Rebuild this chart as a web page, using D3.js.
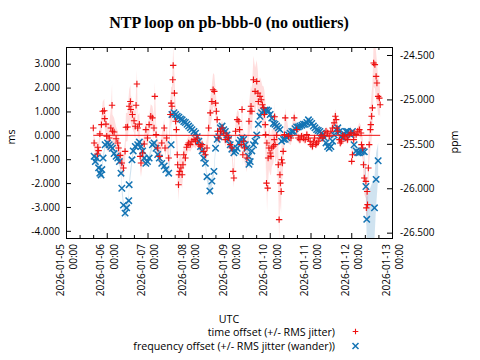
<!DOCTYPE html>
<html><head><meta charset="utf-8">
<script src="https://cdn.jsdelivr.net/npm/d3@7"></script>
<style>body{margin:0;background:#fff}svg{display:block}</style>
</head><body>
<svg id="c" width="480" height="360"></svg>
<script>
// ---------- data ----------
const titleText = "NTP loop on pb-bbb-0 (no outliers)";
const startDate = "2026-01-05T00:00:00Z";
const endDate = "2026-01-13T00:00:00Z";
const msTicks = [-4, -3, -2, -1, 0, 1, 2, 3];
const ppmTicks = [-26.5, -26, -25.5, -25, -24.5];
const seriesNames = ["time offset (+/- RMS jitter)", "frequency offset (+/- RMS jitter (wander))"];

// time offset: days since start, value (ms), RMS jitter (ms)
const offsetDay = [
 0.67,0.69,0.77,0.78,0.80,0.83,0.87,0.90,0.94,0.95,
 0.98,1.00,1.06,1.10,1.13,1.14,1.18,1.23,1.27,1.29,
 1.33,1.37,1.41,1.45,1.47,1.51,1.55,1.58,1.59,1.63,
 1.67,1.70,1.72,1.74,1.76,1.80,1.82,1.84,1.88,1.92,
 1.96,2.00,2.04,2.08,2.12,2.16,2.18,2.21,2.25,2.30,
 2.35,2.41,2.43,2.47,2.52,2.56,2.58,2.60,2.62,2.63,
 2.66,2.69,2.71,2.73,2.74,2.76,2.77,2.79,2.82,2.85,
 2.87,2.89,2.93,2.96,2.99,3.01,3.05,3.09,3.14,3.18,
 3.22,3.26,3.30,3.34,3.38,3.42,3.46,3.50,3.54,3.58,
 3.61,3.64,3.67,3.69,3.71,3.72,3.75,3.79,3.83,3.87,
 3.91,3.95,3.99,4.03,4.07,4.10,4.12,4.16,4.20,4.24,
 4.26,4.30,4.32,4.34,4.36,4.38,4.44,4.49,4.52,4.54,
 4.56,4.60,4.64,4.68,4.71,4.72,4.76,4.79,4.82,4.85,
 4.87,4.89,4.90,4.92,4.93,4.95,4.96,4.98,5.01,5.03,
 5.05,5.09,5.11,5.12,5.13,5.17,5.21,5.23,5.25,5.26,
 5.28,5.29,5.31,5.33,5.36,5.38,5.46,5.52,5.60,5.66,
 5.70,5.74,5.78,5.83,5.87,5.91,5.95,5.99,6.01,6.05,
 6.07,6.10,6.13,6.15,6.19,6.23,6.26,6.30,6.34,6.38,
 6.42,6.46,6.50,6.54,6.58,6.61,6.63,6.65,6.67,6.71,
 6.73,6.76,6.79,6.83,6.87,6.91,6.95,6.99,7.01,7.03,
 7.06,7.07,7.12,7.16,7.20,7.24,7.25,7.28,7.30,7.32,
 7.36,7.37,7.39,7.40,7.42,7.44,7.47,7.48,7.50,7.52,
 7.55,7.58,7.61,7.63,7.66,7.69,7.71
];
const offsetMs = [
 0.31,-0.32,-0.78,-0.50,-0.64,0.06,0.45,1.01,1.03,0.70,
 0.47,-0.04,-0.11,0.31,1.26,0.17,0.14,-0.14,-0.32,-0.53,
 -0.84,-1.16,-1.37,-0.67,0.34,0.35,1.22,1.42,1.08,0.87,
 0.61,0.38,1.26,2.15,0.31,0.47,-0.88,-1.16,-0.74,-0.36,
 0.24,-0.11,0.45,0.80,0.73,0.31,1.63,0.03,-0.53,-0.88,
 -0.32,0.31,-0.53,-0.11,-0.95,0.87,1.35,1.22,2.33,2.93,
 1.77,0.59,0.24,-0.81,-1.23,-2.07,-1.65,-1.51,-1.37,-1.65,
 -1.23,-0.81,-0.95,-0.50,-0.39,-0.32,-0.39,-0.25,-0.18,-0.25,
 -0.11,-0.39,-0.46,-0.39,-0.67,-0.81,-0.53,0.31,0.94,1.42,
 1.91,1.84,1.35,1.01,0.66,0.17,-0.11,0.17,0.31,0.10,
 -0.18,0.00,-0.11,-0.39,-0.53,-1.51,-1.79,0.17,0.66,0.59,
 0.24,-0.39,1.08,-0.81,-0.25,-0.53,-0.95,0.59,1.01,1.22,
 1.01,2.33,1.84,2.26,1.77,1.42,1.63,1.49,1.28,1.15,
 0.87,0.45,0.03,-2.00,-0.32,-2.21,-0.95,-0.53,-0.74,-0.88,
 -0.53,-0.46,-0.18,0.78,-0.39,0.00,-1.23,-3.53,-1.65,-2.00,
 -2.35,-1.02,-1.16,-0.67,0.03,0.73,-0.04,-0.11,0.73,0.24,
 -0.11,-0.18,-0.04,-0.11,-0.18,0.03,-0.11,-0.25,-0.39,-0.46,
 -0.28,-0.11,-0.39,-0.32,-0.25,-0.11,0.00,-0.11,0.00,0.17,
 0.10,-0.04,0.17,0.31,0.52,0.80,0.66,0.31,0.17,-0.18,
 -0.32,-0.25,0.00,-0.04,-0.11,-0.18,0.03,0.10,-1.09,-0.81,
 -0.18,0.10,0.03,0.17,0.24,0.10,-0.39,-0.53,-1.23,-1.79,
 -1.93,-3.04,-2.35,-2.90,-1.37,-0.39,0.24,0.45,0.80,1.15,
 3.03,2.96,2.47,2.19,1.63,1.56,1.28
];
const offsetJitter = [
 0.3,0.3,0.3,0.3,0.3,0.3,0.4,0.4,0.5,0.4,
 0.5,0.6,0.6,0.8,0.9,0.7,0.6,0.5,0.5,0.5,
 0.4,0.4,0.5,0.5,0.6,0.6,0.7,0.7,0.6,0.6,
 0.5,0.6,0.7,0.6,0.5,0.5,0.6,0.6,0.5,0.4,
 0.4,0.4,0.4,0.5,0.5,0.5,0.6,0.5,0.4,0.4,
 0.4,0.4,0.4,0.5,0.5,0.6,0.7,0.8,0.8,0.8,
 0.8,0.7,0.7,0.7,0.8,0.7,0.7,0.6,0.6,0.6,
 0.5,0.4,0.4,0.3,0.3,0.3,0.3,0.3,0.3,0.3,
 0.3,0.3,0.3,0.3,0.3,0.4,0.4,0.5,0.6,0.7,
 0.7,0.7,0.6,0.5,0.5,0.4,0.3,0.3,0.3,0.3,
 0.3,0.3,0.3,0.4,0.4,0.4,0.4,0.4,0.4,0.4,
 0.4,0.4,0.5,0.5,0.5,0.6,0.6,0.7,0.8,0.9,
 0.9,1.0,1.0,0.9,0.9,0.8,0.8,0.8,0.8,0.9,
 1.0,1.0,1.0,1.1,1.0,1.1,1.0,0.9,0.9,0.8,
 0.8,0.7,0.7,0.7,0.8,0.9,1.0,1.1,1.1,1.0,
 0.9,0.8,0.7,0.6,0.5,0.4,0.3,0.3,0.3,0.3,
 0.2,0.2,0.2,0.2,0.2,0.2,0.2,0.2,0.2,0.2,
 0.2,0.2,0.2,0.2,0.2,0.2,0.2,0.2,0.2,0.2,
 0.2,0.2,0.2,0.3,0.3,0.3,0.3,0.3,0.2,0.2,
 0.2,0.2,0.2,0.2,0.2,0.2,0.2,0.3,0.3,0.3,
 0.3,0.2,0.2,0.2,0.3,0.3,0.4,0.5,0.6,0.7,
 0.7,0.8,0.8,0.8,0.8,0.8,0.8,0.9,1.0,1.0,
 1.0,1.0,1.0,0.9,0.8,0.7,0.5
];

// frequency offset: days since start, value (ppm), RMS wander (ppm)
const freqDay = [
 0.69,0.72,0.75,0.80,0.83,0.86,0.88,0.91,0.96,1.02,
 1.06,1.10,1.14,1.18,1.23,1.27,1.31,1.35,1.37,1.41,
 1.45,1.49,1.54,1.55,1.62,1.65,1.70,1.76,1.80,1.84,
 1.88,1.92,1.96,2.00,2.04,2.12,2.16,2.21,2.25,2.29,
 2.35,2.41,2.45,2.52,2.58,2.60,2.65,2.69,2.73,2.77,
 2.81,2.85,2.89,2.93,2.97,3.01,3.05,3.09,3.14,3.18,
 3.22,3.26,3.30,3.34,3.38,3.42,3.46,3.53,3.58,3.63,
 3.67,3.71,3.75,3.79,3.83,3.87,3.91,3.95,3.99,4.03,
 4.07,4.12,4.16,4.20,4.24,4.28,4.32,4.36,4.40,4.44,
 4.48,4.49,4.52,4.56,4.60,4.64,4.68,4.72,4.76,4.80,
 4.85,4.89,4.93,4.97,5.01,5.05,5.09,5.13,5.17,5.21,
 5.25,5.29,5.34,5.38,5.42,5.46,5.50,5.54,5.58,5.62,
 5.66,5.70,5.74,5.79,5.83,5.87,5.91,5.95,5.99,6.03,
 6.07,6.11,6.15,6.19,6.23,6.27,6.30,6.34,6.38,6.42,
 6.46,6.50,6.54,6.58,6.63,6.67,6.71,6.75,6.79,6.83,
 6.87,6.91,6.95,6.99,7.03,7.07,7.12,7.16,7.20,7.24,
 7.28,7.32,7.36,7.38,7.57,7.61,7.66
];
const freqPpm = [
 -25.64,-25.70,-25.66,-25.77,-25.83,-25.85,-25.79,-25.66,-25.51,-25.49,
 -25.51,-25.53,-25.55,-25.61,-25.64,-25.66,-25.70,-25.83,-26.00,-26.19,
 -26.28,-26.22,-26.14,-25.96,-25.68,-25.58,-25.53,-25.51,-25.48,-25.53,
 -25.58,-25.66,-25.72,-25.70,-25.66,-25.51,-25.49,-25.55,-25.62,-25.66,
 -25.72,-25.75,-25.79,-25.83,-25.51,-25.17,-25.15,-25.17,-25.19,-25.20,
 -25.22,-25.23,-25.25,-25.26,-25.28,-25.30,-25.32,-25.34,-25.36,-25.38,
 -25.42,-25.47,-25.53,-25.58,-25.66,-25.72,-25.87,-26.03,-25.92,-25.81,
 -25.55,-25.45,-25.42,-25.32,-25.30,-25.34,-25.36,-25.40,-25.45,-25.51,
 -25.56,-25.60,-25.58,-25.55,-25.49,-25.46,-25.43,-25.45,-25.51,-25.55,
 -25.64,-25.73,-25.70,-25.58,-25.51,-25.47,-25.40,-25.28,-25.19,-25.15,
 -25.13,-25.12,-25.12,-25.13,-25.17,-25.21,-25.27,-25.28,-25.30,-25.32,
 -25.34,-25.47,-25.45,-25.45,-25.43,-25.40,-25.38,-25.36,-25.36,-25.33,
 -25.31,-25.31,-25.30,-25.29,-25.28,-25.28,-25.26,-25.23,-25.25,-25.27,
 -25.30,-25.32,-25.34,-25.35,-25.36,-25.38,-25.40,-25.43,-25.49,-25.53,
 -25.55,-25.53,-25.47,-25.40,-25.34,-25.32,-25.36,-25.42,-25.43,-25.39,
 -25.36,-25.36,-25.38,-25.40,-25.36,-25.51,-25.58,-25.60,-25.60,-25.59,
 -25.58,-25.59,-25.98,-26.35,-26.22,-25.90,-25.69
];
const freqJitter = [
 0.04,0.04,0.04,0.05,0.05,0.05,0.05,0.04,0.04,0.03,
 0.03,0.03,0.03,0.04,0.04,0.04,0.05,0.05,0.06,0.06,
 0.06,0.06,0.06,0.06,0.05,0.04,0.04,0.03,0.03,0.03,
 0.03,0.04,0.04,0.04,0.04,0.03,0.03,0.03,0.04,0.04,
 0.04,0.04,0.05,0.05,0.05,0.04,0.03,0.03,0.03,0.03,
 0.03,0.03,0.03,0.03,0.03,0.03,0.03,0.03,0.03,0.03,
 0.03,0.03,0.03,0.04,0.04,0.05,0.05,0.06,0.06,0.05,
 0.05,0.04,0.04,0.03,0.03,0.03,0.03,0.03,0.03,0.03,
 0.03,0.03,0.03,0.03,0.03,0.03,0.03,0.03,0.04,0.04,
 0.05,0.05,0.05,0.04,0.04,0.04,0.04,0.03,0.03,0.03,
 0.03,0.03,0.03,0.03,0.03,0.03,0.03,0.03,0.03,0.03,
 0.03,0.03,0.03,0.03,0.03,0.03,0.03,0.03,0.03,0.03,
 0.03,0.03,0.03,0.03,0.03,0.03,0.03,0.03,0.03,0.03,
 0.03,0.03,0.03,0.03,0.03,0.03,0.03,0.03,0.03,0.03,
 0.03,0.03,0.03,0.03,0.03,0.03,0.03,0.03,0.03,0.03,
 0.03,0.03,0.03,0.03,0.03,0.03,0.04,0.04,0.04,0.04,
 0.04,0.05,0.15,0.25,0.35,0.30,0.20
];

// ---------- chart ----------
const W = 480, H = 360;
const L = 66, R = 392, T = 47, B = 238;
const FONT = "'Open Sans', 'Noto Sans', sans-serif";
const RED = "#ee1111", BLUE = "#1474b4";

const t0 = new Date(startDate), t1 = new Date(endDate);
const toDate = d => new Date(t0.getTime() + d * 864e5);

const x = d3.scaleUtc().domain([t0, t1]).range([L, R]);
const yL = d3.scaleLinear().domain([-4.3, 3.7]).range([B, T]);
const yR = d3.scaleLinear().domain([-26.56, -24.41]).range([B, T]);

const offsetData = offsetDay.map((d, i) => ({t: toDate(d), v: offsetMs[i], j: offsetJitter[i]}))
  .sort((a, b) => a.t - b.t);
const freqData = freqDay.map((d, i) => ({t: toDate(d), v: freqPpm[i], j: freqJitter[i]}))
  .sort((a, b) => a.t - b.t);

const svg = d3.select("#c");
svg.append("rect").attr("width", W).attr("height", H).attr("fill", "#fff");

svg.append("defs").append("clipPath").attr("id", "clip")
  .append("rect").attr("x", L).attr("y", T).attr("width", R - L).attr("height", B - T);

const plot = svg.append("g").attr("clip-path", "url(#clip)");

// jitter bands
plot.append("path").datum(offsetData)
  .attr("d", d3.area().x(d => x(d.t)).y0(d => yL(d.v - d.j)).y1(d => yL(d.v + d.j)))
  .attr("fill", "#ff0000").attr("fill-opacity", 0.13);
plot.append("path").datum(freqData)
  .attr("d", d3.area().x(d => x(d.t)).y0(d => yR(d.v - d.j)).y1(d => yR(d.v + d.j)))
  .attr("fill", BLUE).attr("fill-opacity", 0.2);

// markers
const plusPath = s => `M${-s},0H${s}M0,${-s}V${s}`;
const crossPath = s => `M${-s},${-s}L${s},${s}M${-s},${s}L${s},${-s}`;

plot.append("g").selectAll("path").data(freqData).join("path")
  .attr("transform", d => `translate(${x(d.t)},${yR(d.v)})`)
  .attr("d", crossPath(3.2)).attr("stroke", BLUE).attr("stroke-width", 1.5).attr("fill", "none");

const ext = d3.extent(offsetData, d => d.t);
plot.append("line")
  .attr("x1", x(ext[0])).attr("x2", x(ext[1]))
  .attr("y1", yL(0)).attr("y2", yL(0))
  .attr("stroke", RED).attr("stroke-width", 1);

plot.append("g").selectAll("path").data(offsetData).join("path")
  .attr("transform", d => `translate(${x(d.t)},${yL(d.v)})`)
  .attr("d", plusPath(3.2)).attr("stroke", RED).attr("stroke-width", 1.1).attr("fill", "none");

// axes
const fmt = d3.formatLocale({decimal: ".", thousands: ",", grouping: [3], currency: ["", ""], minus: "-"}).format(".3f");
function styleAxis(g) {
  g.select(".domain").remove();
  g.selectAll("line").attr("stroke", "#000");
  g.selectAll("text").attr("font-family", FONT).attr("font-size", 10).attr("fill", "#000");
}
svg.append("g").attr("transform", `translate(${L},0)`)
  .call(d3.axisLeft(yL).tickValues(msTicks).tickFormat(fmt).tickSizeInner(-5).tickSizeOuter(0).tickPadding(6))
  .call(styleAxis);
svg.append("g").attr("transform", `translate(${R},0)`)
  .call(d3.axisRight(yR).tickValues(ppmTicks).tickFormat(fmt).tickSizeInner(-5).tickSizeOuter(0).tickPadding(8))
  .call(styleAxis);

const dayTicks = x.ticks(d3.utcDay.every(1));
const minorTicks = x.ticks(d3.utcHour.every(8)).filter(d => d.getUTCHours() !== 0);
[[d3.axisBottom, B], [d3.axisTop, T]].forEach(([ax, yy]) => {
  svg.append("g").attr("transform", `translate(0,${yy})`)
    .call(ax(x).tickValues(dayTicks).tickFormat("").tickSizeInner(-5).tickSizeOuter(0)).call(styleAxis);
  svg.append("g").attr("transform", `translate(0,${yy})`)
    .call(ax(x).tickValues(minorTicks).tickFormat("").tickSizeInner(-3).tickSizeOuter(0)).call(styleAxis);
});

// x tick labels (two rotated lines)
const fDate = d3.utcFormat("%Y-%m-%d"), fTime = d3.utcFormat("%H:%M");
const xl = svg.append("g").attr("font-family", FONT).attr("font-size", 10).attr("fill", "#000");
dayTicks.forEach(d => {
  xl.append("text").attr("text-anchor", "end")
    .attr("transform", `translate(${x(d) - 2.5},${B + 6}) rotate(-90)`).text(fDate(d));
  xl.append("text").attr("text-anchor", "end")
    .attr("transform", `translate(${x(d) + 10.8},${B + 6}) rotate(-90)`).text(fTime(d));
});

// frame
svg.append("rect").attr("x", L + 0.5).attr("y", T + 0.5).attr("width", R - L).attr("height", B - T)
  .attr("fill", "none").attr("stroke", "#000").attr("stroke-width", 1);

// title & labels
svg.append("text").attr("x", (L + R) / 2).attr("y", 28).attr("text-anchor", "middle")
  .attr("font-family", "'Liberation Serif', serif").attr("font-weight", "bold").attr("font-size", 16)
  .text(titleText);
svg.append("text").attr("transform", `translate(15,137) rotate(-90)`).attr("text-anchor", "middle")
  .attr("font-family", FONT).attr("font-size", 10.7).text("ms");
svg.append("text").attr("transform", `translate(457.5,142) rotate(-90)`).attr("text-anchor", "middle")
  .attr("font-family", FONT).attr("font-size", 10.7).text("ppm");
svg.append("text").attr("x", (L + R) / 2).attr("y", 322.5).attr("text-anchor", "middle")
  .attr("font-family", FONT).attr("font-size", 10.7).text("UTC");

// legend
const lg = svg.append("g").attr("font-family", FONT).attr("font-size", 10.7);
lg.append("text").attr("x", 335).attr("y", 335.5).attr("text-anchor", "end").text(seriesNames[0]);
lg.append("text").attr("x", 335).attr("y", 349.5).attr("text-anchor", "end").text(seriesNames[1]);
lg.append("path").attr("transform", "translate(355.5,331.5)").attr("d", plusPath(2.8))
  .attr("stroke", RED).attr("stroke-width", 1.1).attr("fill", "none");
lg.append("path").attr("transform", "translate(355.5,346)").attr("d", crossPath(3))
  .attr("stroke", BLUE).attr("stroke-width", 1.5).attr("fill", "none");
</script>
</body></html>
